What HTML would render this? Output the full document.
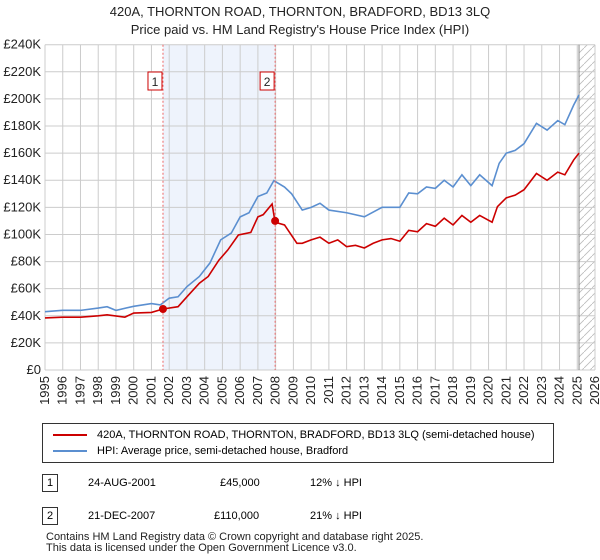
<!DOCTYPE html>
<html><head><meta charset="utf-8"><style>
body{margin:0;background:#fff;font-family:"Liberation Sans",sans-serif;width:600px;height:560px;overflow:hidden;position:relative}
.t{position:absolute;font-size:12px;color:#222}
</style></head><body>
<div class="t" style="left:0;width:600px;top:4px;text-align:center;font-size:13px">420A, THORNTON ROAD, THORNTON, BRADFORD, BD13 3LQ</div>
<div class="t" style="left:0;width:600px;top:22px;text-align:center;font-size:13px">Price paid vs. HM Land Registry's House Price Index (HPI)</div>
<svg id="c" width="600" height="420" style="position:absolute;left:0;top:0"></svg>
<div style="position:absolute;left:42px;top:423px;width:510px;height:38px;border:1px solid #333;font-size:11px">
<div style="position:absolute;left:10px;top:5px"><span style="display:inline-block;width:34px;border-top:2px solid #cc0000;vertical-align:middle;margin-right:10px"></span>420A, THORNTON ROAD, THORNTON, BRADFORD, BD13 3LQ (semi-detached house)</div>
<div style="position:absolute;left:10px;top:21px"><span style="display:inline-block;width:34px;border-top:2px solid #5b8fd0;vertical-align:middle;margin-right:10px"></span>HPI: Average price, semi-detached house, Bradford</div>
</div>
<div style="position:absolute;top:474px;left:0;font-size:11px;width:600px">
<span style="position:absolute;left:42px;top:0;border:1px solid #333;width:14px;height:16px;text-align:center;line-height:16px">1</span>
<span style="position:absolute;left:88px;top:3px">24-AUG-2001</span><span style="position:absolute;left:220px;top:3px">£45,000</span><span style="position:absolute;left:310px;top:3px">12% ↓ HPI</span></div>
<div style="position:absolute;top:507px;left:0;font-size:11px;width:600px">
<span style="position:absolute;left:42px;top:0;border:1px solid #333;width:14px;height:16px;text-align:center;line-height:16px">2</span>
<span style="position:absolute;left:88px;top:3px">21-DEC-2007</span><span style="position:absolute;left:214px;top:3px">£110,000</span><span style="position:absolute;left:310px;top:3px">21% ↓ HPI</span></div>
<div class="t" style="left:46px;top:532px;font-size:11px;line-height:11px">Contains HM Land Registry data © Crown copyright and database right 2025.<br>This data is licensed under the Open Government Licence v3.0.</div>
<script>
const hpiYears=[1995,1996,1997,1998,1998.5,1999,2000,2001,2001.5,2002,2002.5,2003,2003.7,2004.3,2004.9,2005.5,2006,2006.5,2007,2007.5,2007.9,2008.5,2008.9,2009.5,2010,2010.5,2011,2012,2013,2014,2014.5,2015,2015.5,2016,2016.5,2017,2017.5,2018,2018.5,2019,2019.5,2020.2,2020.6,2021,2021.5,2022,2022.7,2023.3,2023.9,2024.3,2024.8,2025.1];
const hpiValues=[43,44,44,45.7,46.7,44,47,49,48,53,54,61.5,69,79,96,101,113,116,128,130.6,139.7,135,130,118,120,123,118,116,113,120,120,120,130.6,130,135,134,140,135,144,136,144,136,152.5,160,162,167,182,177,184,181,195.5,203];
const ppYears=[1995,1996,1997,1998,1998.5,1999.5,2000,2001,2001.65,2002.5,2003,2003.7,2004.2,2004.8,2005.3,2005.9,2006.6,2007,2007.3,2007.8,2007.97,2008.5,2009.2,2009.5,2010,2010.5,2011,2011.5,2012,2012.5,2013,2013.5,2014,2014.5,2015,2015.5,2016,2016.5,2017,2017.5,2018,2018.5,2019,2019.5,2020.2,2020.5,2021,2021.5,2022,2022.7,2023.3,2023.9,2024.3,2024.8,2025.1];
const ppValues=[38.4,39,39,40,40.7,39,42,42.5,45,46.7,54,64,69,81,88.5,99.6,101.5,113,114.6,122.5,109,107,93.5,93.5,96,98,93.5,96,91,92,90,93.5,96,97,95,103,102,108,106,112,107,114,109,114,109,120.5,127,129,133,145,140,146,144,155,160];
const saleYears=[2001.65,2007.97];
const saleValues=[45,110];
const saleLabels=["1","2"];
const yTicks=[0,20,40,60,80,100,120,140,160,180,200,220,240];
const xTicks=[1995,1996,1997,1998,1999,2000,2001,2002,2003,2004,2005,2006,2007,2008,2009,2010,2011,2012,2013,2014,2015,2016,2017,2018,2019,2020,2021,2022,2023,2024,2025,2026];
const L=45,R=595,T=44.7,B=370,x0=1995,x1=2026,yMax=240,hatchStart=2025.1;
const sx=v=>L+(v-x0)/(x1-x0)*(R-L), sy=v=>B-v/yMax*(B-T);
const svg=document.getElementById('c'),NS='http://www.w3.org/2000/svg';
function mk(tag,a,p){const e=document.createElementNS(NS,tag);for(const k in a)e.setAttribute(k,a[k]);(p||svg).appendChild(e);return e;}
const defs=mk('defs',{});
const pat=mk('pattern',{id:'h',width:8,height:8,patternUnits:'userSpaceOnUse'},defs);
mk('path',{d:'M0,8 L8,0',stroke:'#bbb','stroke-width':0.8},pat);
const shade=mk('rect',{x:sx(saleYears[0]),y:T,width:sx(saleYears[1])-sx(saleYears[0]),height:B-T,fill:'#eef3fc'});


const hatch=mk('rect',{x:sx(hatchStart),y:T,width:R-sx(hatchStart),height:B-T,fill:'url(#h)'});


yTicks.forEach(v=>{const g=mk('line',{x1:L,x2:R,y1:sy(v),y2:sy(v),stroke:'#ccc'});


const t=mk('text',{x:L-4,y:sy(v)+4,'text-anchor':'end','font-size':13,fill:'#222'});t.textContent=v===0?'£0':'£'+v+'K';

});
xTicks.forEach(v=>{const g=mk('line',{x1:sx(v),x2:sx(v),y1:T,y2:B,stroke:'#ccc'});


const t=mk('text',{x:sx(v)+4,y:B+6,'text-anchor':'end','font-size':13,fill:'#222',transform:`rotate(-90 ${sx(v)+4} ${B+6})`});t.textContent=v;

});
mk('line',{x1:sx(hatchStart),x2:sx(hatchStart),y1:T,y2:B,stroke:'#888'});
const line=(xs,ys,c,n)=>{const p=mk('polyline',{points:xs.map((x,i)=>sx(x)+','+sy(ys[i])).join(' '),fill:'none',stroke:c,'stroke-width':1.6});

};
line(hpiYears,hpiValues,'#5b8fd0','hpi-line');
line(ppYears,ppValues,'#cc0000','price-paid-line');
saleYears.forEach((y,i)=>{mk('line',{x1:sx(y),x2:sx(y),y1:T,y2:B,stroke:'#e66','stroke-dasharray':'2,2'});
const m=mk('circle',{cx:sx(y),cy:sy(saleValues[i]),r:4,fill:'#cc0000'});


const b=mk('rect',{x:sx(y)-15,y:72,width:14,height:18,fill:'#fff',stroke:'#cc0000'});


const t=mk('text',{x:sx(y)-8,y:86,'text-anchor':'middle','font-size':12,fill:'#222'});t.textContent=saleLabels[i];

});
</script>
</body></html>
